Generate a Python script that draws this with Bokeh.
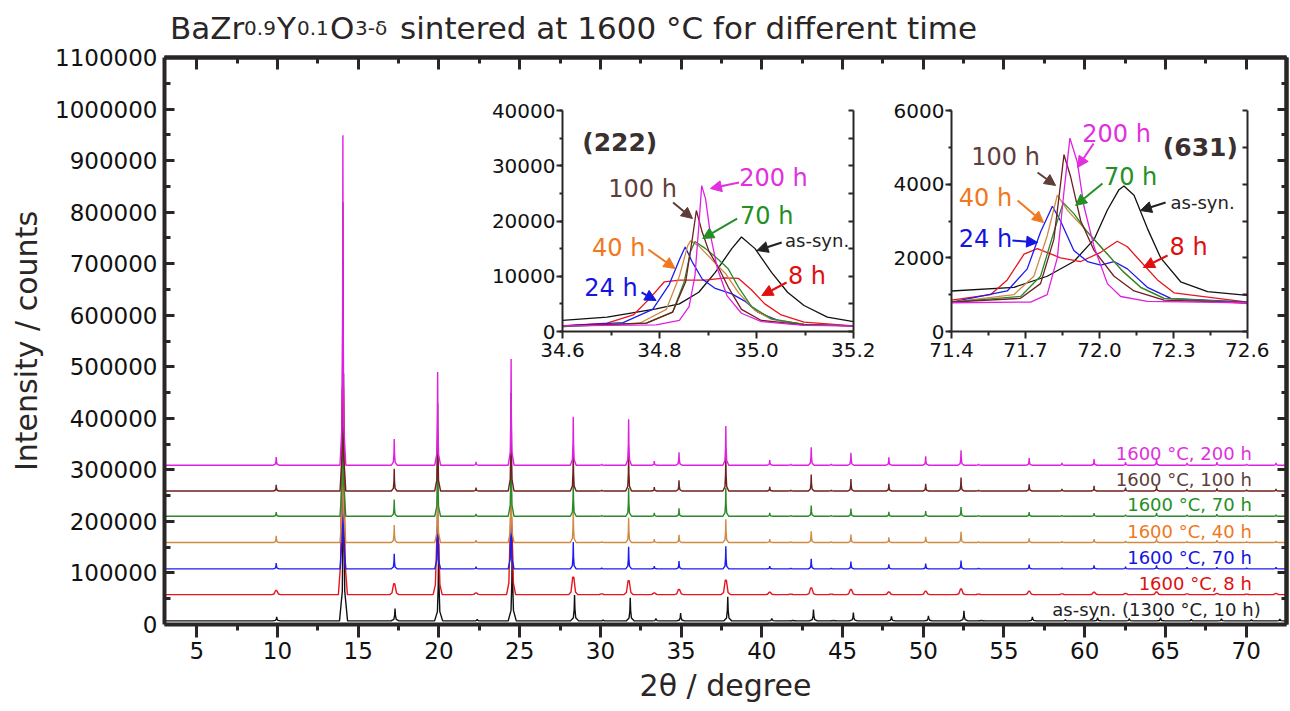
from bokeh.plotting import figure
from bokeh.models import (Range1d, LinearAxis, SingleIntervalTicker, FixedTicker,
                          BasicTickFormatter, PrintfTickFormatter, Label, Arrow,
                          NormalHead, GridBox)
from bokeh.embed import file_html
from bokeh.resources import INLINE

# ------------------------------------------------------------------ data
series_labels = ["as-syn. (1300 °C, 10 h)", "1600 °C, 8 h", "1600 °C, 70 h",
                 "1600 °C, 40 h", "1600 °C, 70 h", "1600 °C, 100 h", "1600 °C, 200 h"]
series_colors = ["#111111", "#e8141c", "#1c1cf0", "#d08a45", "#2a8a2a", "#6e1f1f", "#e020e0"]
label_colors = ["#222222", "#e01010", "#1515e0", "#f07820", "#249024", "#5e3d3a", "#e030e0"]
series_base = [7000, 58000, 108000, 159000, 210000, 259000, 309000]

peak_pos = [9.92, 14.05, 17.23, 19.92, 22.30, 24.47, 28.32, 30.08, 31.75, 33.34,
            34.87, 37.77, 40.49, 41.79, 43.06, 44.30, 45.52, 47.87, 50.15, 52.34,
            53.42, 56.56, 58.59, 60.58, 62.53, 64.45, 66.34, 68.19, 70.03, 71.85]
peak_pos_assyn = [9.95, 14.09, 17.28, 19.98, 22.37, 24.54, 28.40, 30.17, 31.85, 33.44,
                  34.97, 37.89, 40.62, 41.92, 43.20, 44.44, 45.67, 48.03, 50.32, 52.52,
                  53.60, 56.76, 58.80, 60.80, 62.76, 64.70, 66.60, 68.47, 70.33, 72.09]

h_assyn = [8000, 480000, 24000, 150000, 3000, 170000, 50000, 2000, 45000, 4500,
           15000, 47000, 4500, 1500, 22000, 1500, 16000, 9000, 10000, 19500,
           1500, 8000, 2600, 6500, 4500, 6500, 3000, 4000, 2600, 3500]
h_8h = [8000, 400000, 21000, 130000, 3000, 150000, 34000, 1500, 27000, 3000,
        10000, 28000, 4500, 1000, 13000, 1000, 10000, 5000, 6500, 11000,
        1000, 6500, 1500, 4500, 2000, 5000, 1500, 2000, 1000, 2000]
h_24h = [11000, 450000, 29000, 140000, 4000, 160000, 52000, 2000, 43000, 5000,
         15000, 44000, 5000, 1500, 19500, 1500, 14000, 8500, 10000, 16000,
         1500, 8000, 2000, 6500, 4000, 6500, 3000, 3000, 2000, 3000]
h_40h = [13000, 480000, 34000, 150000, 4500, 170000, 65000, 2000, 48000, 6500,
         15000, 45000, 6500, 1500, 22000, 1500, 15600, 10000, 11000, 21000,
         1500, 8000, 2600, 6500, 3000, 8000, 2600, 4500, 2000, 3000]
h_70h = [8000, 500000, 32500, 160000, 4500, 180000, 70000, 2000, 55000, 6500,
         15500, 55000, 6500, 1500, 21000, 1500, 15000, 8500, 10000, 18000,
         1500, 8000, 2000, 6000, 3000, 6500, 3000, 4000, 2000, 2700]
h_100h = [12000, 560000, 43000, 170000, 6500, 190000, 80000, 2000, 75000, 7800,
          21000, 70000, 8000, 2000, 32000, 2000, 23000, 14000, 14000, 26000,
          2000, 13000, 4000, 10000, 6500, 10000, 4000, 5000, 2600, 4000]
h_200h = [16000, 640000, 51000, 181000, 6500, 206000, 94000, 2000, 89000, 7800,
          25000, 76000, 9800, 2000, 35000, 2600, 24000, 15600, 17500, 29000,
          2000, 14000, 4500, 12000, 6000, 13000, 4500, 6000, 2600, 4500]
series_heights = [h_assyn, h_8h, h_24h, h_40h, h_70h, h_100h, h_200h]

# inset (222): (2theta, counts)
i222_assyn = [(34.600, 2000), (34.692, 2600), (34.793, 4100), (34.841, 5000), (34.881, 7100),
              (34.915, 10700), (34.949, 15000), (34.969, 17100), (34.997, 15000), (35.031, 10700),
              (35.064, 7100), (35.098, 4700), (35.146, 2600), (35.200, 1800)]
i222_8h = [(34.600, 1000), (34.692, 1500), (34.746, 3000), (34.780, 6000), (34.810, 9000),
           (34.841, 9300), (34.895, 9300), (34.936, 9700), (34.963, 9600), (34.990, 7500),
           (35.017, 5000), (35.051, 3000), (35.098, 1700), (35.200, 1000)]
i222_24h = [(34.600, 1000), (34.725, 1600), (34.786, 4000), (34.820, 8500), (34.841, 13000),
            (34.853, 15300), (34.868, 12500), (34.888, 9500), (34.915, 7800), (34.949, 6800),
            (34.976, 5500), (35.003, 3500), (35.044, 2000), (35.098, 1300), (35.200, 1000)]
i222_40h = [(34.600, 900), (34.759, 1500), (34.814, 4000), (34.841, 10000), (34.858, 15500),
            (34.864, 16400), (34.881, 15500), (34.908, 13000), (34.936, 10500), (34.963, 7000),
            (34.997, 3800), (35.031, 2200), (35.098, 1300), (35.200, 1000)]
i222_70h = [(34.600, 900), (34.773, 1500), (34.827, 3500), (34.851, 9000), (34.864, 14500),
            (34.873, 16300), (34.895, 15000), (34.922, 13000), (34.942, 11300), (34.963, 8000),
            (34.990, 4500), (35.031, 2300), (35.098, 1300), (35.200, 1000)]
i222_100h = [(34.600, 1000), (34.773, 1500), (34.827, 3500), (34.854, 9000), (34.868, 17000),
             (34.876, 21900), (34.888, 18000), (34.902, 14500), (34.922, 11500), (34.942, 8000),
             (34.969, 4000), (35.010, 2000), (35.098, 1200), (35.200, 1000)]
i222_200h = [(34.600, 1000), (34.793, 1200), (34.841, 2000), (34.861, 4500), (34.873, 10000),
             (34.881, 19000), (34.887, 26400), (34.895, 24000), (34.905, 17500), (34.919, 11500),
             (34.939, 6500), (34.969, 3300), (35.010, 1800), (35.098, 1100), (35.200, 1000)]
i222_curves = [i222_assyn, i222_8h, i222_24h, i222_40h, i222_70h, i222_100h, i222_200h]

# inset (631): (2theta, counts)
i631_assyn = [(71.400, 1100), (71.653, 1200), (71.788, 1500), (71.896, 1900), (71.978, 2500),
              (72.032, 3300), (72.079, 3850), (72.099, 3950), (72.140, 3700), (72.194, 2800),
              (72.248, 2000), (72.329, 1350), (72.438, 1080), (72.600, 980)]
i631_8h = [(71.400, 850), (71.558, 1000), (71.626, 1400), (71.694, 2100), (71.748, 2250),
           (71.842, 2000), (71.924, 1900), (72.005, 2150), (72.072, 2450), (72.113, 2300),
           (72.167, 1900), (72.235, 1400), (72.302, 1050), (72.600, 800)]
i631_24h = [(71.400, 800), (71.626, 1100), (71.707, 1700), (71.761, 2700), (71.809, 3400),
            (71.842, 3000), (71.896, 2200), (71.951, 1900), (72.005, 1800), (72.059, 1900),
            (72.113, 1700), (72.194, 1200), (72.289, 900), (72.600, 800)]
i631_40h = [(71.400, 800), (71.653, 1000), (71.734, 1500), (71.788, 2600), (71.829, 3700),
            (71.869, 3300), (71.924, 2900), (72.005, 2300), (72.086, 1700), (72.167, 1200),
            (72.262, 900), (72.600, 760)]
i631_70h = [(71.400, 800), (71.680, 950), (71.761, 1500), (71.815, 2700), (71.853, 3500),
            (71.896, 3200), (71.951, 2700), (72.032, 2100), (72.099, 1600), (72.167, 1200),
            (72.262, 900), (72.600, 780)]
i631_100h = [(71.400, 800), (71.680, 900), (71.761, 1300), (71.815, 2500), (71.842, 4000),
             (71.856, 4800), (71.883, 4200), (71.924, 3000), (71.978, 2200), (72.059, 1500),
             (72.140, 1100), (72.262, 850), (72.600, 780)]
i631_200h = [(71.400, 780), (71.721, 800), (71.788, 1000), (71.829, 2000), (71.856, 3800),
             (71.880, 5250), (71.910, 4600), (71.937, 3400), (71.978, 2300), (72.032, 1300),
             (72.086, 950), (72.194, 820), (72.600, 780)]
i631_curves = [i631_assyn, i631_8h, i631_24h, i631_40h, i631_70h, i631_100h, i631_200h]

inset_names = ["as-syn.", "8 h", "24 h", "40 h", "70 h", "100 h", "200 h"]

main_x_major = [5, 10, 15, 20, 25, 30, 35, 40, 45, 50, 55, 60, 65, 70]
main_x_minor = [7.5, 12.5, 17.5, 22.5, 27.5, 32.5, 37.5, 42.5, 47.5, 52.5, 57.5, 62.5, 67.5]
main_y_major = [100000 * k for k in range(12)]
main_y_minor = [50000 + 100000 * k for k in range(11)]
i222_x_ticks = [34.6, 34.8, 35.0, 35.2]
i222_x_minor = [34.7, 34.9, 35.1]
i222_y_all = [5000 * k for k in range(9)]
i631_x_ticks = [71.4, 71.7, 72.0, 72.3, 72.6]
i631_x_minor = [71.55, 71.85, 72.15, 72.45]
i631_y_all = [1000 * k for k in range(7)]

# ------------------------------------------------------------------ style
FONT = "DejaVu Sans"
AX = "#2b2626"

# simple peak profile shapes (relative offsets and height fractions)
narrow_dx = [-1.0, -0.3, -0.1, 0.0, 0.1, 0.3, 1.0]
narrow_fr = [0.0, 0.12, 0.45, 1.0, 0.45, 0.12, 0.0]
flat_dx = [-1.0, -0.5, -0.3, -0.12, 0.12, 0.3, 0.5, 1.0]
flat_fr = [0.0, 0.15, 0.6, 1.0, 1.0, 0.6, 0.15, 0.0]


def trace(base, heights, positions, hw, dxs, frs):
    xs, ys = [3.0], [base]
    for pos, h in zip(positions, heights):
        for dx, fr in zip(dxs, frs):
            xs.append(pos + dx * hw)
            ys.append(base + fr * h)
    xs.append(72.5)
    ys.append(base)
    return xs, ys


def style_axis(ax, tin, tout, mtin, mtout, lw, tw):
    ax.axis_line_color = AX
    ax.axis_line_width = lw
    ax.major_tick_line_color = AX
    ax.minor_tick_line_color = AX
    ax.major_tick_line_width = tw
    ax.minor_tick_line_width = tw
    ax.major_tick_in = tin
    ax.major_tick_out = tout
    ax.minor_tick_in = mtin
    ax.minor_tick_out = mtout
    ax.major_label_text_font = FONT
    ax.major_label_text_color = "#111111"


def tick_only_axis(positions, tick_len, lw, tw):
    # axis that draws only (minor) ticks, no labels at all
    ax = LinearAxis(ticker=FixedTicker(ticks=[], minor_ticks=positions))
    style_axis(ax, 0, 0, tick_len, 0, lw, tw)
    ax.major_label_standoff = 0
    return ax


# ------------------------------------------------------------------ main figure
TITLE_H = 44
p = figure(width=1290, height=711 - TITLE_H, x_range=Range1d(3, 72.5),
           y_range=Range1d(0, 1100000),
           output_backend="svg", toolbar_location=None,
           min_border_left=164, min_border_right=4, min_border_top=57 - TITLE_H,
           min_border_bottom=87)
p.xgrid.visible = False
p.ygrid.visible = False
p.outline_line_color = None
p.background_fill_color = "white"

for i in range(7):
    if i == 0:
        xs, ys = trace(series_base[i], series_heights[i], peak_pos_assyn, 0.25, narrow_dx, narrow_fr)
    elif i == 1:
        xs, ys = trace(series_base[i], series_heights[i], peak_pos, 0.28, flat_dx, flat_fr)
    else:
        xs, ys = trace(series_base[i], series_heights[i], peak_pos, 0.18, narrow_dx, narrow_fr)
    p.line(xs, ys, line_color=series_colors[i], line_width=1.4)

for i in range(7):
    x_lab = 70.9 if i == 0 else 70.35
    p.add_layout(Label(x=x_lab, y=series_base[i] + 22000, text=series_labels[i],
                       text_align="right", text_baseline="middle", text_font=FONT,
                       text_font_size="18px", text_color=label_colors[i]))

xa = p.xaxis[0]
xa.ticker = FixedTicker(ticks=main_x_major, minor_ticks=main_x_minor)
style_axis(xa, 0, 13, 0, 6, 4, 3)
xa.major_label_text_font_size = "23px"
xa.major_label_standoff = 4
xa.axis_label = "2θ / degree"
xa.axis_label_text_font = FONT
xa.axis_label_text_font_size = "30px"
xa.axis_label_text_font_style = "normal"
xa.axis_label_text_color = "#2b2626"
xa.axis_label_standoff = 6

ya = p.yaxis[0]
ya.ticker = FixedTicker(ticks=main_y_major, minor_ticks=main_y_minor)
ya.formatter = BasicTickFormatter(use_scientific=False)
style_axis(ya, 10, 0, 6, 0, 4, 3)
ya.major_label_text_font_size = "23px"
ya.major_label_standoff = 7
ya.axis_label = "Intensity / counts"
ya.axis_label_text_font = FONT
ya.axis_label_text_font_size = "30px"
ya.axis_label_text_font_style = "normal"
ya.axis_label_text_color = "#2b2626"
ya.axis_label_standoff = 8

p.add_layout(tick_only_axis(main_x_major, 12, 4, 3), "above")
p.add_layout(tick_only_axis(main_x_minor, 6, 4, 3), "above")
p.add_layout(tick_only_axis(main_y_major, 9, 4, 3), "right")
p.add_layout(tick_only_axis(main_y_minor, 5, 4, 3), "right")

# ------------------------------------------------------------------ title (formula with subscripts)
# its frame is aligned with the main frame, so it shares the 2-theta range
title_fig = figure(width=1290, height=TITLE_H, x_range=Range1d(3, 72.5),
                   y_range=Range1d(0, TITLE_H),
                   output_backend="svg", toolbar_location=None,
                   x_axis_type=None, y_axis_type=None,
                   min_border_left=164, min_border_right=4, min_border_top=0,
                   min_border_bottom=0)
title_fig.background_fill_color = "white"
title_fig.border_fill_color = "white"
title_fig.outline_line_color = None
title_fig.xgrid.visible = False
title_fig.ygrid.visible = False
title_pieces = [("BaZr", 3.34, "31px"), ("0.9", 7.93, "20px"), ("Y", 9.97, "31px"),
                ("0.1", 11.21, "20px"), ("O", 13.25, "31px"), ("3-δ", 14.80, "20px"),
                ("sintered at 1600 °C for different time", 17.59, "31px")]
for txt, xx, fs in title_pieces:
    title_fig.add_layout(Label(x=xx, y=17, text=txt, text_align="left",
                               text_baseline="alphabetic", text_font=FONT,
                               text_font_size=fs, text_color="#2b2626"))


# ------------------------------------------------------------------ insets
def make_inset(xr, yr, border_left, width, yint, xticks, xminor, yall):
    f = figure(width=width, height=275, x_range=Range1d(*xr), y_range=Range1d(*yr),
               output_backend="svg", toolbar_location=None,
               min_border_left=border_left, min_border_right=22, min_border_top=12,
               min_border_bottom=42)
    f.background_fill_alpha = 0
    f.border_fill_alpha = 0
    f.outline_line_color = None
    f.xgrid.visible = False
    f.ygrid.visible = False
    bx = f.xaxis[0]
    bx.ticker = FixedTicker(ticks=xticks, minor_ticks=xminor)
    bx.formatter = PrintfTickFormatter(format="%.1f")
    style_axis(bx, 0, 7, 0, 4, 2, 2)
    bx.major_label_text_font_size = "20px"
    bx.major_label_standoff = 4
    ly = f.yaxis[0]
    ly.ticker = SingleIntervalTicker(interval=yint, num_minor_ticks=2)
    ly.formatter = BasicTickFormatter(use_scientific=False)
    style_axis(ly, 0, 6, 0, 3, 2, 2)
    ly.major_label_text_font_size = "20px"
    ly.major_label_standoff = 1
    f.add_layout(tick_only_axis(yall, 5, 2, 2), "right")
    return f


inset1 = make_inset((34.6, 35.2), (0, 40000), 70, 387, 10000, i222_x_ticks, i222_x_minor, i222_y_all)
inset2 = make_inset((71.4, 72.6), (0, 6000), 62, 380, 2000, i631_x_ticks, i631_x_minor, i631_y_all)

for i in range(7):
    inset1.line([pt[0] for pt in i222_curves[i]], [pt[1] for pt in i222_curves[i]],
                line_color=series_colors[i], line_width=1.3)
    inset2.line([pt[0] for pt in i631_curves[i]], [pt[1] for pt in i631_curves[i]],
                line_color=series_colors[i], line_width=1.3)

# annotations: (name index, label x, label y, arrow x0, y0, x1, y1, font size)
ann222 = [(6, 35.035, 27870, 34.964, 26970, 34.905, 25880, "24px"),
          (5, 34.765, 25880, 34.828, 23350, 34.868, 20450, "24px"),
          (4, 35.021, 20815, 34.960, 20450, 34.889, 16830, "24px"),
          (0, 35.125, 16470, 35.052, 16110, 35.001, 14660, "18px"),
          (3, 34.716, 15200, 34.777, 14840, 34.832, 11400, "24px"),
          (1, 35.104, 9955, 35.062, 8870, 35.011, 6516, "24px"),
          (2, 34.700, 7783, 34.763, 7060, 34.793, 5610, "24px")]
ann631 = [(6, 72.069, 5349, 71.976, 5104, 71.911, 4453, "24px"),
          (5, 71.619, 4751, 71.749, 4317, 71.822, 3964, "24px"),
          (4, 72.126, 4208, 72.012, 4018, 71.903, 3421, "24px"),
          (0, 72.418, 3502, 72.268, 3502, 72.166, 3285, "18px"),
          (3, 71.538, 3638, 71.668, 3557, 71.773, 2959, "24px"),
          (2, 71.538, 2498, 71.647, 2471, 71.749, 2416, "24px"),
          (1, 72.361, 2281, 72.276, 2063, 72.178, 1738, "24px")]

for fig, anns in ((inset1, ann222), (inset2, ann631)):
    for (k, lx, ly_, x0, y0, x1, y1, fs) in anns:
        c = label_colors[k]
        fig.add_layout(Label(x=lx, y=ly_, text=inset_names[k], text_align="center",
                             text_baseline="middle", text_font=FONT, text_font_size=fs,
                             text_color=c))
        fig.add_layout(Arrow(end=NormalHead(size=11, fill_color=c, line_color=c),
                             x_start=x0, y_start=y0, x_end=x1, y_end=y1,
                             line_color=c, line_width=2))

inset1.add_layout(Label(x=34.718, y=34210, text="(222)", text_align="center",
                        text_baseline="middle", text_font=FONT, text_font_size="25px",
                        text_font_style="bold", text_color="#3a3030"))
inset2.add_layout(Label(x=72.409, y=4996, text="(631)", text_align="center",
                        text_baseline="middle", text_font=FONT, text_font_size="25px",
                        text_font_style="bold", text_color="#3a3030"))

grid = GridBox(children=[(title_fig, 0, 0, 1, 4), (p, 1, 0, 3, 4),
                         (inset1, 2, 1), (inset2, 2, 2)],
               rows=[f"{TITLE_H}px", f"{98 - TITLE_H}px", "275px", "338px"],
               cols=["488px", "401px", "380px", "21px"],
               spacing=0)

open("out.html", "w").write(file_html(grid, INLINE))
